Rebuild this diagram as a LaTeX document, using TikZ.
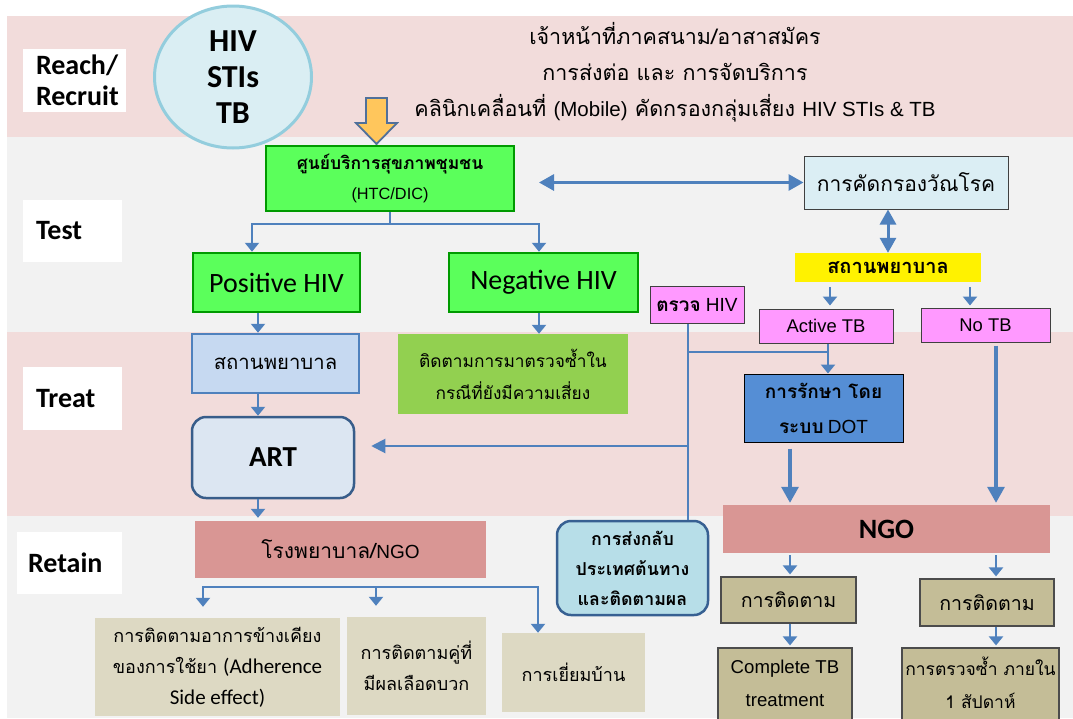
\documentclass[tikz,border=0pt]{standalone}
\usepackage{fontspec}
\setmainfont{Carlito}
\newfontfamily\thai[Script=Thai]{Loma}
\newfontfamily\arial{Liberation Sans}
\usetikzlibrary{arrows.meta,shapes.geometric,calc}

\definecolor{bandpink}{HTML}{F2DCDB}
\definecolor{bandgrey}{HTML}{F2F2F2}
\definecolor{ablue}{HTML}{4F81BD}
\definecolor{circfill}{HTML}{DAEEF3}
\definecolor{circline}{HTML}{93CDDD}
\definecolor{orangefill}{HTML}{FFC65C}
\definecolor{orangeline}{HTML}{50709A}
\definecolor{brightgreen}{HTML}{5BFF5B}
\definecolor{darkgreen}{HTML}{009A00}
\definecolor{hospblue}{HTML}{C6D9F1}
\definecolor{artfill}{HTML}{DCE6F2}
\definecolor{artline}{HTML}{385D8A}
\definecolor{olivefill}{HTML}{92D050}
\definecolor{magentafill}{HTML}{FF99FF}
\definecolor{dotblue}{HTML}{558ED5}
\definecolor{ngofill}{HTML}{D99694}
\definecolor{returnfill}{HTML}{B7DEE8}
\definecolor{returnline}{HTML}{376092}
\definecolor{beigefill}{HTML}{DDD9C3}
\definecolor{khakifill}{HTML}{C4BD97}
\definecolor{screenfill}{HTML}{DBEEF4}

\newcommand\fsz[2]{\fontsize{#1}{#2}\selectfont}

\begin{document}
\begin{tikzpicture}[x=1pt,y=-1pt,
  every node/.style={inner sep=0pt, align=center},
  lbl/.style={fill=white, align=left, inner xsep=13pt, font=\bfseries\fsz{28}{31}},
  gbox/.style={draw=darkgreen, line width=2.5pt, fill=brightgreen},
  mbox/.style={draw=black!75, line width=1pt, fill=magentafill, font=\arial\fsz{18.4}{20}},
  beige/.style={fill=beigefill, font=\thai\fsz{18}{31}},
  kbox/.style={draw=black!70, line width=1.2pt, fill=khakifill},
  conn/.style={draw=ablue, line width=2.5pt},
  thinconn/.style={draw=ablue, line width=2pt},
  arr/.style={draw=ablue, line width=2.5pt, -{Triangle[width=14pt,length=9pt]}},
  thinarr/.style={draw=ablue, line width=2pt, -{Triangle[width=14pt,length=14pt]}},
  thickarr/.style={draw=ablue, line width=3.2pt, -{Triangle[width=17pt,length=16pt]}},
  dblarr/.style={draw=ablue, line width=3pt, {Triangle[width=16pt,length=15pt]}-{Triangle[width=16pt,length=15pt]}}
]
\useasboundingbox (0,0) rectangle (1073,718);
\fill[white] (0,0) rectangle (1073,718);

% stage bands
\fill[bandpink] (7,16) rectangle (1073,137);
\fill[bandgrey] (7,137) rectangle (1073,332);
\fill[bandpink] (7,332) rectangle (1073,516);
\fill[bandgrey] (7,516) rectangle (1073,718);

% stage labels
\node[lbl, text width=77pt, minimum height=63pt] (lreach) at (74.5,80.5) {Reach/\\Recruit};
\node[lbl, text width=73pt, minimum height=62pt] (ltest) at (72.5,231) {Test};
\node[lbl, text width=73pt, minimum height=63pt] (ltreat) at (72.5,398.5) {Treat};
\node[lbl, text width=83pt, inner xsep=11pt, minimum height=62pt] (lretain) at (69.5,563) {Retain};

% target diseases
\node[ellipse, draw=circline, line width=3pt, fill=circfill, minimum width=157pt, minimum height=142pt,
      font=\bfseries\fsz{32}{36}] (target) at (233,77) {HIV\\STIs\\TB};

% outreach text
\node[font=\thai\fsz{21.5}{36}] (outreach) at (675,72)
  {เจ้าหน้าที่ภาคสนาม/อาสาสมัคร\\
   การส่งต่อ และ การจัดบริการ\\
   คลินิกเคลื่อนที่ {\arial\fsz{20.5}{36}(Mobile)} คัดกรองกลุ่มเสี่ยง {\arial\fsz{20.5}{36}HIV STIs \& TB}};

% block arrow into the health centre
\draw[orangeline, fill=orangefill, line width=1.8pt, line join=miter]
  (366,98) -- (387,98) -- (387,123) -- (397,123) -- (376.5,144) -- (356,123) -- (366,123) -- cycle;

% test stage
\node[gbox, minimum width=248pt, minimum height=65pt, font=\fsz{17.5}{30}] (htc) at (390,178.5)
  {{\thai\bfseries ศูนย์บริการสุขภาพชุมชน}\\{\arial\fsz{16.3}{30}(HTC/DIC)}};
\node[gbox, minimum width=167pt, minimum height=59pt, font=\fsz{28}{32}] (pos) at (276.5,282.5) {Positive HIV};
\node[gbox, minimum width=189pt, minimum height=59pt, font=\fsz{28}{32}] (neg) at (543.5,282.5) {Negative HIV};

\node[draw=black!75, line width=1pt, fill=screenfill, minimum width=204pt, minimum height=53pt,
      font=\thai\fsz{21}{24}] (screen) at (906,182.5) {การคัดกรองวัณโรค};
\node[fill=yellow, minimum width=186pt, minimum height=29pt, font=\thai\bfseries\fsz{20}{24}] (tbhosp) at (888,267.5) {สถานพยาบาล};
\node[mbox, minimum width=134pt, minimum height=34pt] (active) at (826,326) {Active TB};
\node[mbox, minimum width=129pt, minimum height=34pt] (notb) at (985.5,325) {No TB};
\node[mbox, minimum width=94pt, minimum height=37pt, font=\arial\fsz{19}{20}] (hivtest) at (697,305) {{\thai\bfseries ตรวจ} HIV};

% treat stage
\node[draw=ablue, line width=2.5pt, fill=hospblue, minimum width=167pt, minimum height=59pt,
      font=\thai\fsz{20.3}{24}] (hosp) at (275.5,363.5) {สถานพยาบาล};
\node[draw=artline, line width=2.5pt, fill=artfill, rounded corners=14pt, minimum width=162pt, minimum height=81pt,
      font=\bfseries\fsz{29}{32}] (art) at (273,457.5) {ART};
\node[fill=olivefill, minimum width=230pt, minimum height=80pt, font=\thai\fsz{17.3}{32}] (fup) at (513,374)
  {ติดตามการมาตรวจซ้ำใน\\กรณีที่ยังมีความเสี่ยง};
\node[draw=black, line width=1pt, fill=dotblue, minimum width=159pt, minimum height=68pt,
      font=\fsz{19}{35}] (dot) at (823.5,408) {{\thai\bfseries การรักษา โดย}\\{\thai\bfseries ระบบ} {\arial DOT}};

% retain stage
\node[fill=ngofill, minimum width=327pt, minimum height=48pt, font=\bfseries\fsz{28}{30}] (ngo) at (886.5,529) {NGO};
\node[draw=returnline, line width=2.5pt, fill=returnfill, rounded corners=14pt, minimum width=151pt, minimum height=94pt,
      font=\thai\bfseries\fsz{17.8}{30}] (ret) at (632.5,568) {การส่งกลับ\\ประเทศต้นทาง\\และติดตามผล};
\node[fill=ngofill, minimum width=291pt, minimum height=57pt, font=\fsz{21}{24}] (hngo) at (340.5,549.5)
  {{\thai โรงพยาบาล/}{\arial\fsz{19}{24}NGO}};
\node[beige, minimum width=245pt, minimum height=98pt] (b1) at (217.5,667)
  {การติดตามอาการข้างเคียง\\ของการใช้ยา {\normalfont\fsz{21}{31}(Adherence}\\{\normalfont\fsz{21}{31}Side effect)}};
\node[beige, minimum width=139pt, minimum height=98pt] (b2) at (416.5,666) {การติดตามคู่ที่\\มีผลเลือดบวก};
\node[beige, minimum width=143pt, minimum height=79pt] (b3) at (573.5,672.5) {การเยี่ยมบ้าน};
\node[kbox, minimum width=135pt, minimum height=46pt, font=\thai\fsz{19.6}{24}] (f1) at (788.5,600) {การติดตาม};
\node[kbox, minimum width=134pt, minimum height=47pt, font=\thai\fsz{19.6}{24}] (f2) at (987,602.5) {การติดตาม};
\node[kbox, minimum width=134pt, minimum height=72pt, font=\arial\fsz{18.6}{33}] (c1) at (785,684) {\raisebox{2pt}{Complete TB}\\\raisebox{2pt}{treatment}};
\node[kbox, minimum width=157pt, minimum height=72pt, font=\thai\fsz{17.5}{33}] (c2) at (980.5,684) {\raisebox{2pt}{การตรวจซ้ำ ภายใน}\\\raisebox{2pt}{1 สัปดาห์}};

% connector columns and junctions
\coordinate (br1) at (252,224);
\coordinate (br2) at (539,224);
\coordinate (xc) at (258,0);
\coordinate (xa) at (830,0);
\coordinate (xn) at (970,0);
\coordinate (xd) at (828,0);
\coordinate (xv) at (688,0);
\coordinate (jtb) at (0,352);
\coordinate (jart) at (0,446);
\coordinate (xt) at (790,0);
\coordinate (xq) at (996,0);
\coordinate (r1) at (203,587);
\coordinate (r2) at (376,587);
\coordinate (r3) at (538,587);

% test stage connectors
\draw[conn] (htc.south) -- (htc.south |- br1);
\draw[arr] (br2) -- (br1) -- (pos.north -| br1);
\draw[arr] (br1) -- (br2) -- (neg.north -| br2);
\draw[dblarr] (screen.west -| br2) -- (screen.west);
\draw[dblarr] (screen.south -| tbhosp.north) -- (tbhosp.north);
\draw[arr] ([yshift=-5pt]tbhosp.south -| xa) -- ([yshift=3pt]active.north -| xa);
\draw[arr] ([yshift=-5pt]tbhosp.south -| xn) -- ([yshift=2pt]notb.north -| xn);

% treat stage connectors
\draw[arr] (pos.south -| xc) -- (hosp.north -| xc);
\draw[arr] (hosp.south -| xc) -- (art.north -| xc);
\draw[arr] (neg.south -| br2) -- (fup.north -| br2);
\draw[arr] (active.south -| xd) -- (dot.north -| xd);
\draw[thinconn] (hivtest.south -| xv) -- (ret.north -| xv);
\draw[thinconn] (xv |- jtb) -- (xd |- jtb);
\draw[thinarr, shorten >=16pt] (xv |- jart) -- (art.east |- jart);
\draw[thickarr] ([yshift=-6pt]dot.south -| xt) -- ([yshift=2pt]ngo.north -| xt);
\draw[thickarr] ([yshift=-3pt]notb.south -| xq) -- ([yshift=2pt]ngo.north -| xq);

% retain stage connectors
\draw[arr] (art.south -| xc) -- ([yshift=3pt]hngo.north -| xc);
\draw[arr] (r3) -- (r1) -- ([yshift=11pt]b1.north -| r1);
\draw[arr] (r2) -- ([yshift=11pt]b2.north -| r2);
\draw[arr] (r1) -- (r3) -- (b3.north -| r3);
\draw[arr] ([yshift=-2pt]ngo.south -| xt) -- ([yshift=2pt]f1.north -| xt);
\draw[arr] ([yshift=-2pt]ngo.south -| xq) -- ([yshift=2pt]f2.north -| xq);
\draw[arr] (f1.south -| xt) -- ([yshift=2pt]c1.north -| xt);
\draw[arr] (f2.south -| xq) -- ([yshift=2pt]c2.north -| xq);
\end{tikzpicture}
\end{document}
